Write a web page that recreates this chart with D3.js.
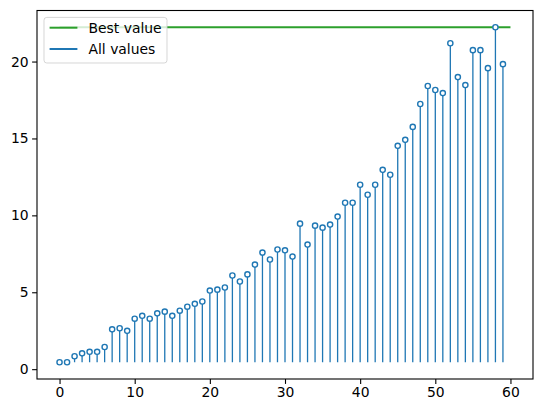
<!DOCTYPE html>
<html>
<head>
<meta charset="utf-8">
<script src="https://cdn.jsdelivr.net/npm/d3@7"></script>
<style>
  body { margin: 0; background: #fff; }
  text { font-family: "DejaVu Sans", sans-serif; }
</style>
</head>
<body>
<svg id="chart" width="543" height="413"></svg>
<script>
// values, one per iteration 0..59
const allValues = [
  0.45, 0.45, 0.84, 1.03, 1.13, 1.13, 1.44, 2.59, 2.66, 2.49,
  3.28, 3.47, 3.28, 3.63, 3.74, 3.47, 3.80, 4.06, 4.25, 4.40,
  5.11, 5.17, 5.31, 6.09, 5.70, 6.16, 6.80, 7.58, 7.13, 7.78,
  7.73, 7.32, 9.46, 8.10, 9.33, 9.20, 9.40, 9.92, 10.82, 10.82,
  11.99, 11.34, 11.99, 12.96, 12.64, 14.52, 14.91, 15.75, 17.24, 18.41,
  18.15, 17.95, 21.19, 18.99, 18.47, 20.74, 20.74, 19.57, 22.23, 19.83
];
const bestValue = 22.23;
const bestRange = [0, 60];
const xTicks = [0, 10, 20, 30, 40, 50, 60];
const yTicks = [0, 5, 10, 15, 20];
const legendLabels = ["Best value", "All values"];

const blue = "#1f77b4", green = "#2ca02c";
const svg = d3.select("#chart");
const plotLeft = 37, plotRight = 533, plotTop = 10.5, plotBottom = 379;

const yMin = d3.min(allValues), yMax = bestValue;
const yPad = (yMax - yMin) * 0.05;

const x = d3.scaleLinear().domain([-3, 63]).range([plotLeft, plotRight]);
const y = d3.scaleLinear().domain([yMin - yPad, yMax + yPad]).range([plotBottom, plotTop]);

// best value line
svg.append("line")
  .attr("x1", x(bestRange[0])).attr("x2", x(bestRange[1]))
  .attr("y1", y(bestValue)).attr("y2", y(bestValue))
  .attr("stroke", green).attr("stroke-width", 2);

// stems
const baseline = d3.min(allValues);
svg.append("g").selectAll("line")
  .data(allValues)
  .join("line")
  .attr("x1", (d, i) => x(i)).attr("x2", (d, i) => x(i))
  .attr("y1", y(baseline)).attr("y2", d => y(d))
  .attr("stroke", blue).attr("stroke-width", 1.3);

// markers
svg.append("g").selectAll("circle")
  .data(allValues)
  .join("circle")
  .attr("cx", (d, i) => x(i))
  .attr("cy", d => y(d))
  .attr("r", 2.6)
  .attr("fill", "#fff")
  .attr("stroke", blue)
  .attr("stroke-width", 1.4);

// axes
const xAxis = svg.append("g")
  .attr("transform", `translate(0,${plotBottom})`)
  .call(d3.axisBottom(x).tickValues(xTicks).tickSize(4.9).tickPadding(3.5).tickFormat(d3.format("d")));
const yAxis = svg.append("g")
  .attr("transform", `translate(${plotLeft},0)`)
  .call(d3.axisLeft(y).tickValues(yTicks).tickSize(4.9).tickPadding(3.5).tickFormat(d3.format("d")));
[xAxis, yAxis].forEach(function (g) {
  g.select(".domain").remove();
  g.selectAll("line").attr("stroke", "#000").attr("stroke-width", 1.1);
  g.selectAll("text").attr("fill", "#000")
    .style("font-size", "13.9px")
    .style("font-family", "'DejaVu Sans', sans-serif");
});

// frame
svg.append("rect")
  .attr("x", plotLeft).attr("y", plotTop)
  .attr("width", plotRight - plotLeft).attr("height", plotBottom - plotTop)
  .attr("fill", "none").attr("stroke", "#000").attr("stroke-width", 1.1);

// legend
const legend = svg.append("g").attr("transform", "translate(44,17.4)");
legend.append("rect")
  .attr("width", 123).attr("height", 45.6)
  .attr("rx", 2.8)
  .attr("fill", "#fff").attr("fill-opacity", 0.8)
  .attr("stroke", "#ccc").attr("stroke-opacity", 0.8);
const legendColors = [green, blue];
legendLabels.forEach(function (label, i) {
  const ly = 10.3 + i * 21.3;
  legend.append("line")
    .attr("x1", 5.6).attr("x2", 33.4)
    .attr("y1", ly).attr("y2", ly)
    .attr("stroke", legendColors[i]).attr("stroke-width", 2);
  legend.append("text")
    .attr("x", 44.5).attr("y", ly)
    .attr("dy", "0.35em")
    .style("font-size", "13.9px")
    .attr("fill", "#000")
    .text(label);
});
</script>
</body>
</html>
